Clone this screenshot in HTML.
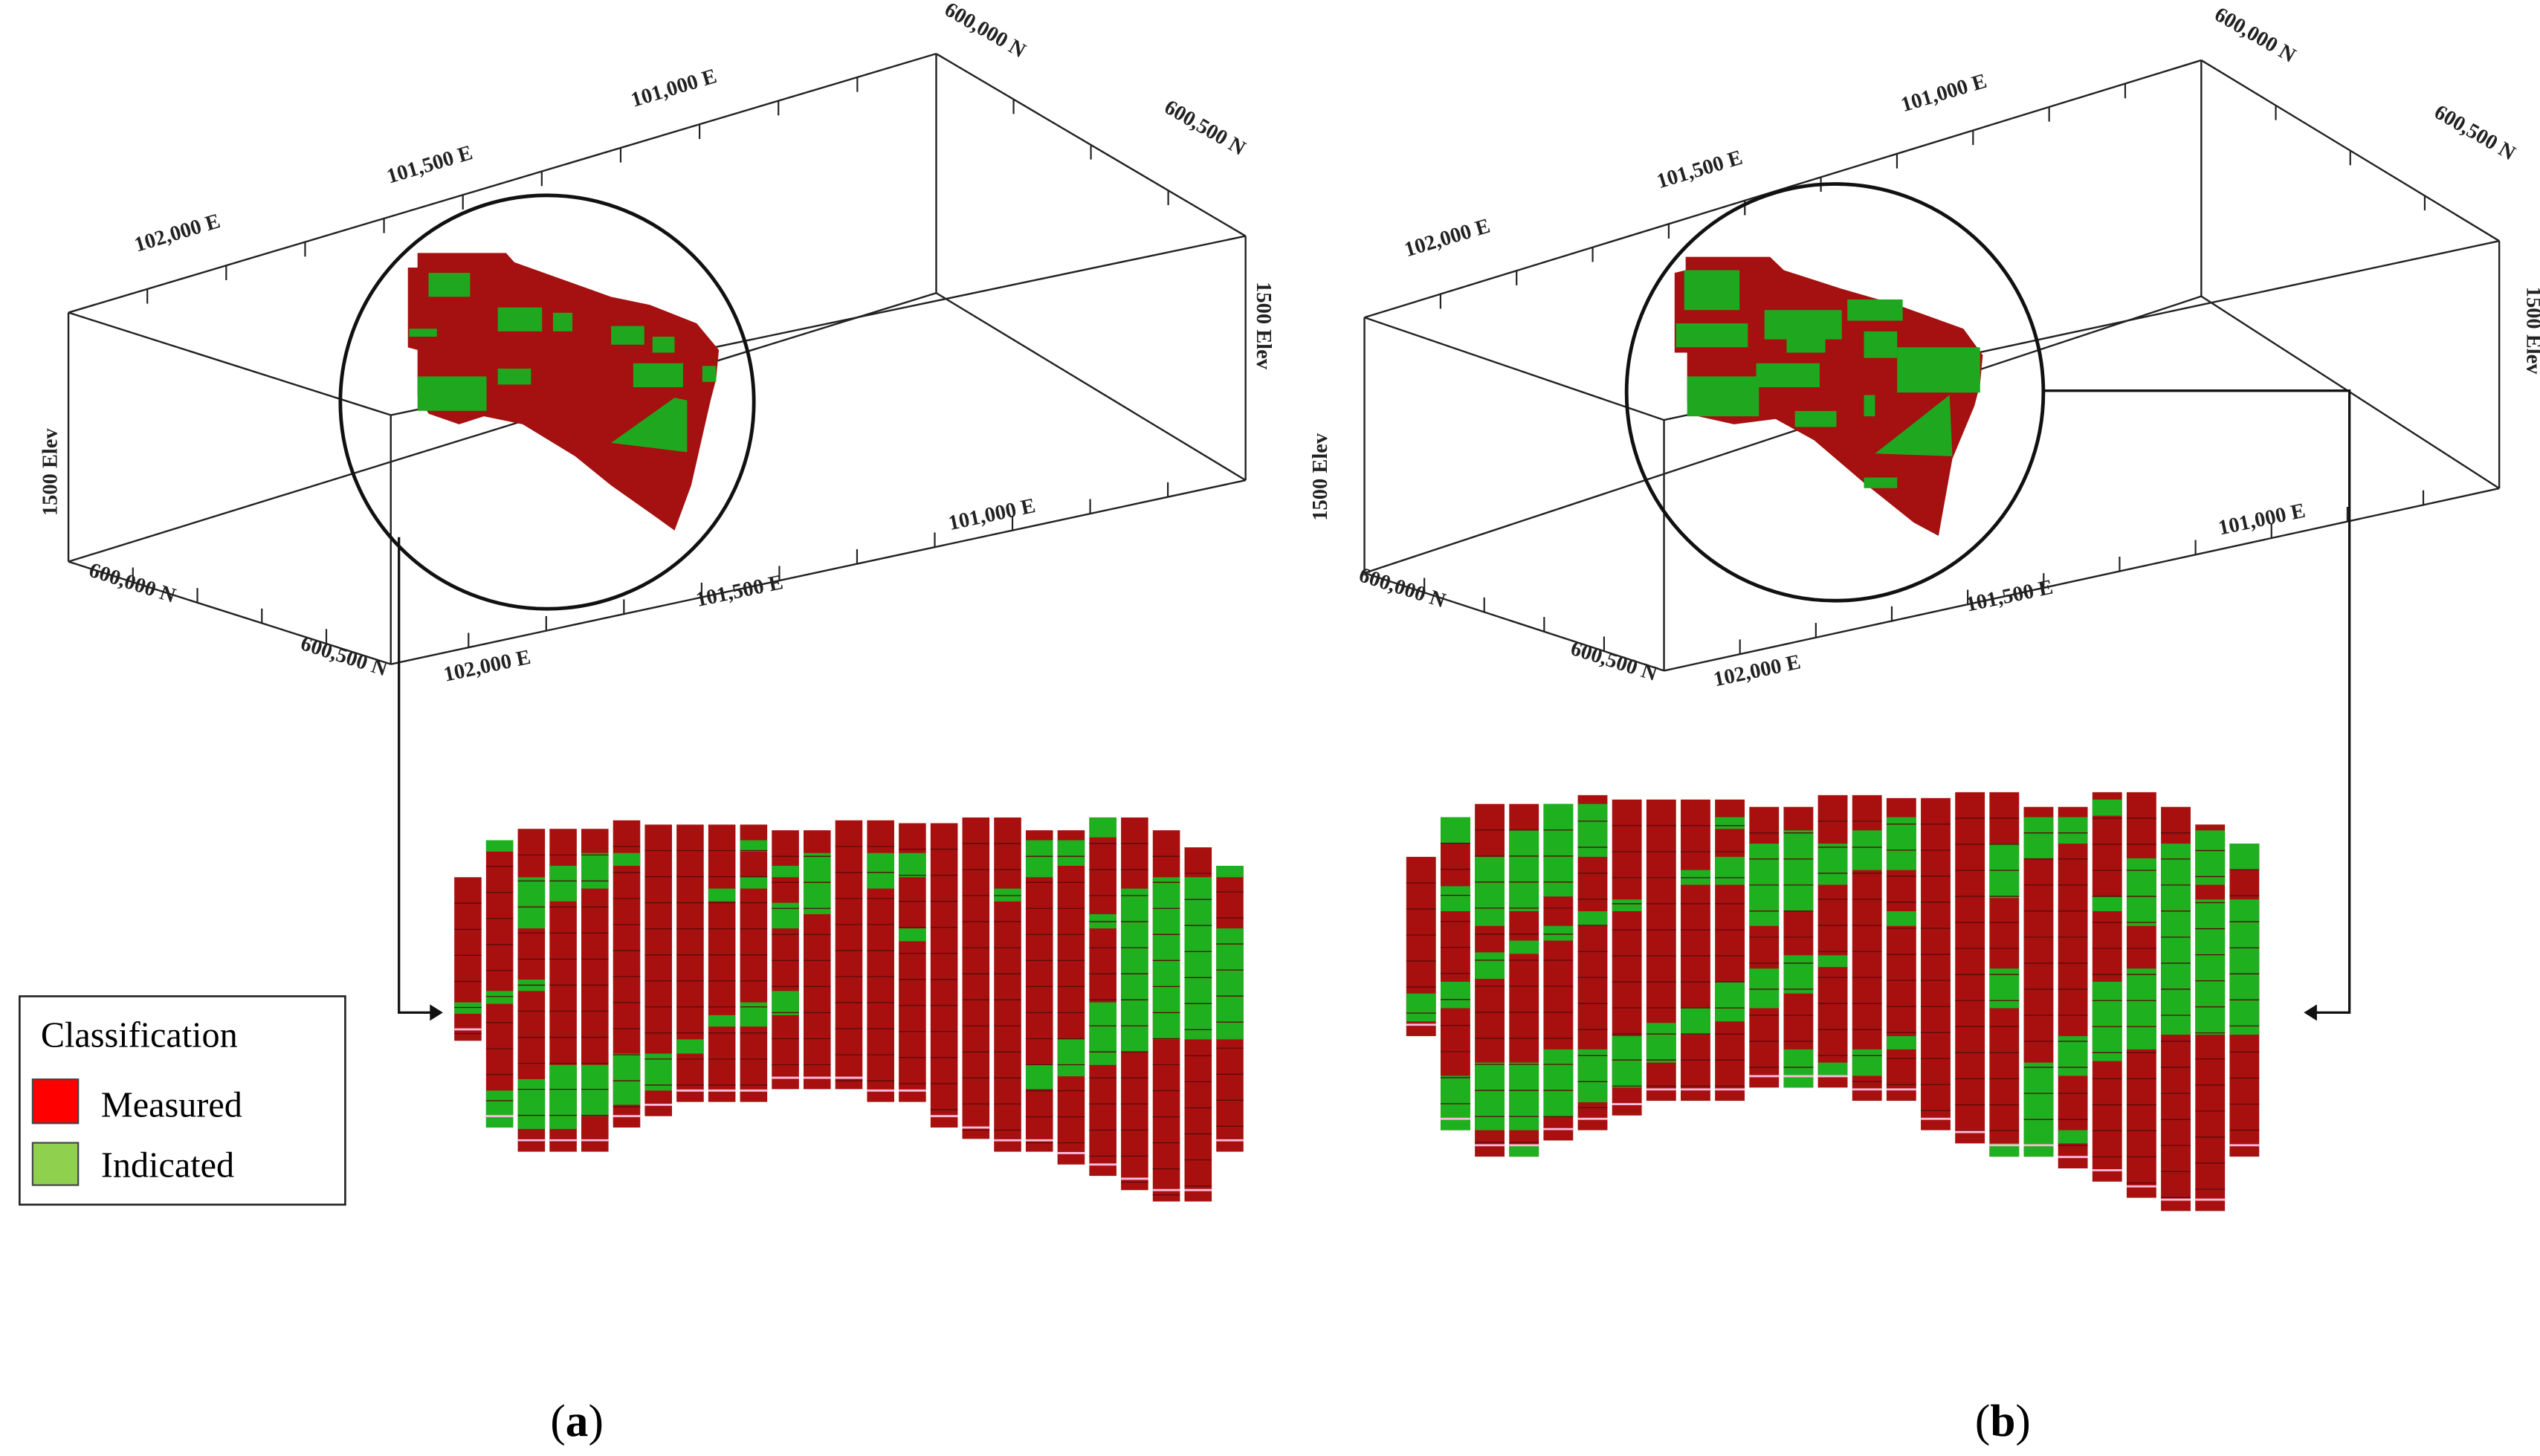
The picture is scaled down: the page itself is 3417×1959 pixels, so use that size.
<!DOCTYPE html>
<html><head><meta charset="utf-8"><title>Classification block models (a) and (b)</title>
<style>
html,body{margin:0;padding:0;background:#fff;}
svg{display:block;}
text{font-family:"Liberation Serif",serif;}
.ax{font-weight:bold;font-size:13px;fill:#222;}
</style></head>
<body>
<svg id="fig" width="3417" height="1959" viewBox="0 0 1560 894.4" xmlns="http://www.w3.org/2000/svg">
<g id="boxes"></g>
<g id="circles"></g>
<g id="grids"></g>
<g id="legend">
 <rect x="12" y="612" width="200" height="128" fill="#fff" stroke="#222" stroke-width="1.2"/>
 <text x="25" y="643" font-size="22">Classification</text>
 <rect x="20" y="663" width="28" height="27" fill="#ff0000" stroke="#444"/>
 <text x="62" y="686" font-size="22">Measured</text>
 <rect x="20" y="702" width="28" height="26" fill="#8fd14f" stroke="#444"/>
 <text x="62" y="723" font-size="22">Indicated</text>
</g>
<text x="338" y="882" font-size="28">(<tspan font-weight="bold">a</tspan>)</text>
<text x="1213" y="882" font-size="28">(<tspan font-weight="bold">b</tspan>)</text>
</svg>
<script>
// ---- data (depth units along each drill column) ----
const panels = ['a','b'];
const topsA = [340,210,170,170,170,140,155,155,155,155,175,175,140,140,150,150,130,130,175,175,130,130,175,235,300];
const botsA = [915,1220,1305,1305,1305,1220,1180,1130,1130,1130,1085,1085,1085,1130,1130,1220,1260,1305,1305,1350,1390,1440,1480,1480,1305];
const greenA = [[[780,820]],[[210,250],[740,785],[1090,1220]],[[340,520],[700,740],[1050,1225]],[[300,425],[1000,1225]],[[255,380],[1000,1180]],[[255,300],[960,1140]],[[960,1090]],[[910,960]],[[380,425],[825,865]],[[210,250],[340,380],[780,865]],[[300,340],[430,520],[740,825]],[[255,470]],[],[[255,380]],[[255,340],[520,565]],[],[],[[380,425]],[[210,340],[1000,1085]],[[210,300],[910,1040]],[[130,200],[470,520],[780,1000]],[[380,955]],[[340,910]],[[340,910]],[[300,340],[520,910]]];
const topsB = [285,150,105,105,105,75,90,90,90,90,115,115,75,75,85,85,65,65,115,115,65,65,115,175,240];
const botsB = [895,1215,1305,1305,1250,1215,1165,1115,1115,1115,1070,1070,1070,1115,1115,1215,1260,1305,1305,1345,1390,1445,1490,1490,1305];
const greenB = [[[750,845]],[[150,240],[385,470],[710,800],[1030,1215]],[[285,520],[610,700],[985,1215]],[[195,470],[570,615],[985,1215],[1265,1305]],[[105,420],[520,570],[940,1170]],[[105,285],[470,520],[940,1120]],[[430,470],[895,1070]],[[850,985]],[[330,380],[800,890]],[[150,190],[285,380],[710,845]],[[240,520],[665,800]],[[195,470],[620,750],[940,1070]],[[240,380],[620,660],[985,1030]],[[195,330],[940,1030]],[[150,330],[470,520],[895,940]],[],[],[[240,425],[665,800],[1260,1305]],[[150,290],[985,1305]],[[150,240],[895,1030],[1215,1260]],[[90,145],[420,470],[710,980]],[[290,520],[665,940]],[[240,890]],[[195,380],[430,890]],[[240,330],[430,890]]];
const axisLabels = ['102,000 E','101,500 E','101,000 E','600,000 N','600,500 N','1500 Elev'];

const NS='http://www.w3.org/2000/svg';
function mk(tag, attrs, parent){const e=document.createElementNS(NS,tag);for(const k in attrs)e.setAttribute(k,attrs[k]);parent.appendChild(e);return e;}

// ---- boxes ----
const boxes = {
 a:{T:[[42,192],[575,33],[765,145],[240,255]],B:[[42,345],[575,180],[765,295],[240,408]],ox:0,oy:0},
 b:{T:[[838,195],[1352,37],[1535,148],[1022,258]],B:[[838,352],[1352,182],[1535,300],[1022,412]],ox:780,oy:3}
};
const gB=document.getElementById('boxes');
for(const p of panels){
 const bx=boxes[p];
 const g=mk('g',{},gB);
 
 
 const edges=[];
 for(let i=0;i<4;i++){edges.push([bx.T[i],bx.T[(i+1)%4]]);edges.push([bx.B[i],bx.B[(i+1)%4]]);edges.push([bx.T[i],bx.B[i]]);}
 for(const e of edges) mk('line',{x1:e[0][0],y1:e[0][1],x2:e[1][0],y2:e[1][1],stroke:'#222','stroke-width':1.1},g);
 function ticks(a,b,n,len){for(let i=1;i<n;i++){const t=i/n;const x=a[0]+(b[0]-a[0])*t,y=a[1]+(b[1]-a[1])*t;mk('line',{x1:x,y1:y,x2:x,y2:y-len,stroke:'#222','stroke-width':1},g);}}
 ticks(bx.T[0],bx.T[1],11,-9);ticks(bx.T[1],bx.T[2],4,-9);ticks(bx.B[0],bx.B[3],5,9);ticks(bx.B[3],bx.B[2],11,9);
 const ox=bx.ox, oy=bx.oy;
 const L=[[110,147,-16.6,0],[265,105,-16.6,1],[415,58,-16.6,2],[603,22,30,3],[738,82,30,4],
  [80,362,17.7,3],[210,407,17.7,4],[300,413,-12,0],[455,367,-12,1],[610,320,-12,2]];
 for(const l of L){const t=mk('text',{x:l[0]+ox,y:l[1]+oy,class:'ax','text-anchor':'middle',transform:`rotate(${l[2]} ${l[0]+ox} ${l[1]+oy})`},g);t.textContent=axisLabels[l[3]];
  
  }
 const e1=mk('text',{x:35+ox,y:290+oy,class:'ax','text-anchor':'middle',transform:`rotate(-90 ${35+ox} ${290+oy})`},g);e1.textContent=axisLabels[5];
 
 
 const e2=mk('text',{x:772+ox,y:200+oy,class:'ax','text-anchor':'middle',transform:`rotate(90 ${772+ox} ${200+oy})`},g);e2.textContent=axisLabels[5];
 
 
}

// ---- circles with ore body ----
const gC=document.getElementById('circles');
const circ={a:[336,247,127],b:[1127,241,128]};
const bodies={a:'256.4,156.9 310.8,156.9 315.9,162.8 375.3,184.9 399,190 427.9,201.9 441.5,218.9 439.8,237.6 436.4,251.1 424.5,305.5 414.3,334.3 400.7,324.1 375.3,305.5 353.2,286.8 321,266.4 297.2,261.3 281.9,266.4 263.2,259.6 256.4,247.7 256.4,218.9 250.5,217.2 250.5,166.2 256.4,166.2',
 b:'1035.3,159.4 1087.1,159.4 1095.6,167.9 1131.2,179.8 1165.2,190 1205.9,205.3 1217.8,222.3 1216.1,241 1212.7,254.5 1199.1,288.5 1190.6,337.7 1175.4,329.2 1144.8,303.8 1114.2,276.6 1090.5,263 1065,266.4 1042.9,261.3 1036.2,252.8 1036.2,220.6 1028.5,220.6 1028.5,169.6 1035.3,167.9'};
const greensA=[[256.4,235.8,42.4,22],[263.2,169.6,25.5,15.3],[305.7,191.7,27.2,15.3],[339.6,195.1,11.9,11.9],[388.9,227.4,30.6,15.3],[375.3,203.6,20.4,11.9],[305.7,230.8,20.4,10.2],[431.3,229.1,8.5,10.2],[251.3,205.3,17,5.1],[400.7,210.4,13.6,10.2]];
const triA='375.3,278.3 414.3,249.4 422,251.1 422,284.2';
const greensB=[[1036.2,235.8,44.1,25.5],[1078.6,227.4,39,15.3],[1034.4,167.9,34,25.5],[1029.4,201.9,44.1,15.3],[1083.7,193.4,47.5,18.7],[1097.3,207,23.8,13.6],[1134.6,186.6,34,13.6],[1144.8,207,20.4,17],[1165.2,217.2,50.9,28.9],[1144.8,247.7,6.8,13.6],[1144.8,300.4,20.4,6.8],[1102.4,257.9,25.5,10.2],[1199.1,229.1,17,17]];
const triB='1151.6,285.1 1197.4,247.7 1199.1,286.8';
for(const p of panels){
 const g=mk('g',{},gC);
 
 
 const c=circ[p];
 mk('circle',{cx:c[0],cy:c[1],r:c[2],fill:'none',stroke:'#111','stroke-width':2.2},g);
 const inner=mk('g',{transform:'translate(0,118.7) scale(1,0.961) translate(0,-118.7)'},g);
 mk('polygon',{points:bodies[p],fill:'#a51010'},inner);
 for(const r of (p==='a'?greensA:greensB)) mk('rect',{x:r[0],y:r[1],width:r[2],height:r[3],fill:'#1fa81f'},inner);
 mk('polygon',{points:p==='a'?triA:triB,fill:'#1fa81f'},inner);
}
const conn=mk('g',{},gC);


mk('polyline',{points:'245,330 245,622 266,622',fill:'none',stroke:'#111','stroke-width':1.5},conn);
mk('polygon',{points:'272,622 264,617 264,627',fill:'#111'},conn);
mk('polyline',{points:'1255,240 1443,240 1443,622 1421,622',fill:'none',stroke:'#111','stroke-width':1.5},conn);
mk('polygon',{points:'1415,622 1423,617 1423,627',fill:'#111'},conn);

// ---- block grids ----
const gG=document.getElementById('grids');
function grid(x0,step,w,yScale,tops,bots,greens,name){
 const g=mk('g',{},gG);
 
 
 for(let i=0;i<tops.length;i++){
  const x=x0+i*step;
  const yt=yScale(tops[i]), yb=yScale(bots[i]);
  const col=mk('rect',{x:x,y:yt,width:w,height:yb-yt,fill:'#a81010'},g);
  
  
  for(const s of greens[i]){
   const gr=mk('rect',{x:x,y:yScale(s[0]),width:w,height:yScale(s[1])-yScale(s[0]),fill:'#1fb01f'},g);
   
   
  }
  for(let y=yt+16;y<yb-4;y+=16) mk('line',{x1:x,y1:y,x2:x+w,y2:y,stroke:'#5a0a0a','stroke-width':0.6},g);
  mk('line',{x1:x,y1:yb-7,x2:x+w,y2:yb-7,stroke:'#fbd','stroke-width':1.3},g);
 }
}
grid(279,19.5,16.7,z=>479.45+z/5.723,topsA,botsA,greenA,'block-grid-a');
grid(863.7,21.07,18.2,z=>474.9+z/5.539,topsB,botsB,greenB,'block-grid-b');
</script>
</body></html>
